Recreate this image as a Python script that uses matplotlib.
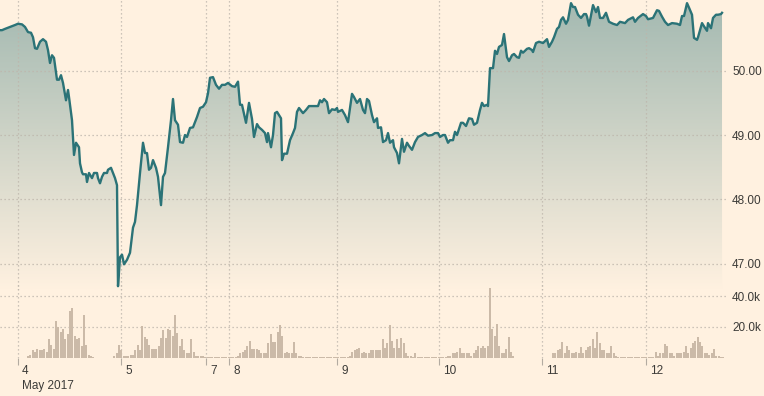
import numpy as np
import matplotlib.pyplot as plt
from matplotlib.colors import to_rgb
from matplotlib.transforms import ScaledTranslation

# position along the (compressed) trading-time axis
t = [0, 2, 5, 10, 15, 18, 22, 25, 28, 31, 33, 35, 37, 40, 43, 46, 48, 50, 52, 54,
     57, 59, 61, 63, 66, 68, 69, 72, 74, 76, 79, 80, 82, 83, 86, 87, 89, 92, 94, 97,
     98, 100, 102, 104, 107, 108, 111, 113, 115, 117, 118, 120, 122, 124, 127, 130, 133, 135, 137, 140,
     143, 145, 147, 149, 151, 153, 156, 158, 161, 163, 165, 168, 171, 173, 175, 178, 180, 183, 185, 187,
     190, 193, 197, 200, 203, 206, 208, 210, 213, 216, 219, 222, 225, 228, 232, 235, 238, 240, 242, 246,
     249, 252, 254, 257, 259, 262, 265, 267, 268, 271, 273, 275, 277, 281, 282, 284, 287, 290, 293, 295,
     297, 299, 303, 306, 309, 315, 318, 320, 322, 324, 327, 329, 332, 335, 337, 338, 342, 345, 348, 352,
     354, 357, 360, 363, 365, 367, 369, 372, 374, 377, 378, 381, 383, 386, 388, 390, 393, 394, 397, 399,
     402, 404, 407, 409, 412, 415, 418, 422, 425, 428, 432, 435, 438, 440, 443, 445, 448, 450, 453, 455,
     457, 461, 463, 466, 469, 472, 474, 477, 480, 482, 484, 487, 488, 490, 493, 495, 497, 499, 502, 504,
     507, 509, 512, 514, 517, 519, 521, 523, 527, 529, 532, 533, 536, 539, 543, 547, 549, 552, 554, 557,
     559, 561, 563, 566, 568, 571, 573, 575, 578, 581, 584, 586, 587, 589, 593, 596, 598, 600, 603, 606,
     609, 613, 617, 620, 625, 628, 633, 635, 638, 643, 646, 648, 653, 657, 659, 662, 665, 668, 672, 677,
     680, 682, 684, 687, 689, 692, 694, 697, 698, 702, 704, 707, 708, 711, 713, 716, 718, 721, 722]

price = [50.63, 50.63, 50.65, 50.68, 50.71, 50.73, 50.72, 50.68, 50.60, 50.59, 50.52, 50.35, 50.34, 50.45, 50.49, 50.45, 50.32, 50.12, 50.24, 50.20,
         49.86, 49.86, 49.93, 49.81, 49.54, 49.70, 49.59, 49.23, 48.69, 48.88, 48.81, 48.56, 48.42, 48.39, 48.39, 48.27, 48.41, 48.33, 48.41, 48.41,
         48.33, 48.25, 48.35, 48.41, 48.41, 48.46, 48.49, 48.41, 48.33, 48.22, 46.65, 47.10, 47.14, 46.99, 47.06, 47.17, 47.56, 47.65, 47.91, 48.41,
         48.88, 48.72, 48.72, 48.46, 48.49, 48.61, 48.49, 48.35, 47.91, 48.35, 48.41, 48.81, 49.23, 49.56, 49.23, 49.16, 48.89, 48.88, 49.00, 48.97,
         49.11, 49.12, 49.28, 49.42, 49.44, 49.51, 49.65, 49.89, 49.90, 49.78, 49.72, 49.78, 49.78, 49.81, 49.76, 49.75, 49.83, 49.47, 49.47, 49.19,
         49.50, 49.25, 48.97, 49.17, 49.12, 49.08, 49.03, 48.89, 49.03, 48.81, 49.00, 49.34, 49.36, 49.26, 48.61, 48.71, 48.71, 48.92, 49.03, 49.11,
         49.36, 49.42, 49.34, 49.39, 49.45, 49.45, 49.45, 49.54, 49.51, 49.56, 49.51, 49.34, 49.40, 49.39, 49.42, 49.36, 49.39, 49.31, 49.20, 49.64,
         49.59, 49.50, 49.56, 49.39, 49.34, 49.56, 49.53, 49.31, 49.20, 49.26, 49.11, 49.12, 48.89, 48.92, 49.03, 48.88, 48.92, 48.81, 48.72, 48.56,
         48.94, 48.74, 48.88, 48.83, 48.77, 48.89, 48.97, 49.00, 49.03, 48.99, 49.00, 49.03, 49.03, 48.97, 49.00, 49.00, 48.88, 48.92, 48.92, 49.05,
         49.00, 49.19, 49.19, 49.14, 49.26, 49.25, 49.16, 49.19, 49.39, 49.50, 49.45, 49.47, 49.45, 50.04, 50.04, 50.31, 50.26, 50.37, 50.40, 50.57,
         50.21, 50.15, 50.24, 50.26, 50.21, 50.20, 50.31, 50.28, 50.34, 50.35, 50.32, 50.29, 50.43, 50.45, 50.43, 50.49, 50.37, 50.45, 50.52, 50.65,
         50.68, 50.79, 50.83, 50.73, 50.79, 51.05, 50.99, 50.99, 50.87, 50.82, 50.88, 50.88, 50.84, 50.70, 51.02, 50.91, 50.99, 50.82, 50.82, 50.90,
         50.76, 50.73, 50.71, 50.76, 50.74, 50.79, 50.83, 50.76, 50.82, 50.88, 50.85, 50.80, 50.82, 50.94, 50.93, 50.84, 50.76, 50.71, 50.74, 50.73,
         50.71, 50.85, 50.85, 51.05, 50.98, 50.87, 50.51, 50.48, 50.52, 50.74, 50.69, 50.62, 50.74, 50.66, 50.82, 50.87, 50.87, 50.88, 50.90]

# 30-minute volume, thousands of contracts
volume = [0.3, 0.3, 0.3, 0.3, 0.3, 0.3, 0.3, 0.3, 0.3, 0.3, 0.3, 0.3,
          1, 2, 5, 4, 6, 5, 5, 6, 4, 12, 8.5, 6, 24, 20, 17, 18.5, 12, 15.5, 30, 32,
          14, 12, 13, 7.5, 27.5, 8.5, 2, 1.5, 0.5,
          0.3, 0.3, 0.3, 0.3, 0.3, 0.3, 0.3, 0.3,
          1, 3, 8.5, 5, 1.5, 1, 1.5, 2, 2, 5, 8.5, 5, 20.5, 13.5, 12, 8.5, 6, 6, 6, 7.5,
          13, 18, 13, 18.5, 18, 14, 28, 16, 7.5, 12, 5, 3, 3, 12, 4, 1.5, 1, 1, 1.5,
          0.4, 0.4, 0.4, 0.4, 0.4, 0.4, 0.4, 0.4, 0.4, 0.4, 0.4, 0.4, 0.4, 0.4,
          1.5, 3, 4, 5, 7.5, 11, 6, 6, 6, 5, 3, 3.5, 3, 9.5, 15.5, 10, 10, 17, 21, 14,
          3, 4, 3.5, 3, 10.5, 3, 1, 1.5,
          0.4, 0.4, 0.4, 0.4, 0.4, 0.4, 0.4, 0.4, 0.4, 0.4, 0.4, 0.4, 0.4, 0.4, 0.4, 0.4, 0.4, 0.4, 0.4, 0.4,
          1.5, 4, 5, 6, 6.5, 3, 4, 3.5, 3.5, 5, 5, 5, 5, 5, 12, 6.5, 9.5, 21, 11, 6.5,
          12, 6.5, 13, 9.5, 3.5, 1, 1, 0.6, 3,
          0.4, 0.4, 0.4, 0.4, 0.4, 0.4, 0.4, 0.4, 0.4, 0.4, 0.4, 0.4, 0.4,
          1.5, 1.5, 3, 3, 4, 6.5, 3, 3, 3, 3, 1.5, 3, 5, 8, 6.5, 7.5, 6.5, 7.5, 45, 19,
          14, 22, 7.5, 3.5, 3, 6, 13.5, 4, 1,
          0.3, 0.3, 0.3, 0.3, 0.3, 0.3, 0.3, 0.3, 0.3, 0.3, 0.3, 0.3, 0.3, 0.3, 0.3, 0.3,
          3, 3, 5, 6, 10, 3, 7.5, 5, 3, 3.5, 4, 3, 7, 3, 5, 7, 8, 12, 6.5, 16.5,
          9.5, 5, 5, 3, 3, 8, 3, 1, 0.5,
          0.4, 0.4, 0.4, 0.4, 0.4, 0.4, 0.4, 0.4, 0.4, 0.4, 0.4, 0.4, 0.4, 0.4, 0.4,
          4, 1, 3, 3, 9, 7.5, 3, 3, 1.5, 3, 3, 3, 4, 7.5, 3, 6.5, 9.5, 11, 13.5, 10.5,
          7.5, 3, 3, 2, 3, 6, 1.5, 1, 0.5, 0.4]
vol_step = 7 / 3

day_pos = [18, 121, 206, 229, 337, 439, 542, 646]
day_labels = ["4", "5", "7", "8", "9", "10", "11", "12"]
price_ticks = [47, 48, 49, 50]
vol_ticks = [20, 40]

bg = "#fff1e0"
line_c = "#2b7377"
fill_top = "#a3b9b1"
bar_c = "#cbbaa8"
grid_c = "#bdb5ab"
text_c = "#3c3b38"
dots = (0, (1, 2.2))

plt.rcParams["font.family"] = ["Liberation Sans", "DejaVu Sans"]

fig = plt.figure(figsize=(7.64, 3.96), dpi=100, facecolor=bg)
ax = fig.add_axes([0, 0.2677, 0.9529, 0.7323])
axv = fig.add_axes([0, 0.0960, 0.9529, 0.1843], sharex=ax)
for a in (ax, axv):
    a.set_facecolor("none")
    for s in a.spines.values():
        s.set_visible(False)

y0, y1 = 46.591, 51.099

# gradient under the price line
c_top = np.array(to_rgb(fill_top))
c_bot = np.array(to_rgb(bg))
frac = np.linspace(0, 1, 256)[:, None]
grad = c_top + (c_bot - c_top) * frac
img = np.repeat(grad[:, None, :], 2, axis=1)
area = ax.fill_between(t, price, y0, color="none", lw=0)
im = ax.imshow(img, extent=[0, t[-1], y0, y1], aspect="auto", origin="upper", zorder=1)
im.set_clip_path(area.get_paths()[0], transform=ax.transData)

for p in price_ticks:
    ax.axhline(p, color=grid_c, ls=dots, lw=0.9, zorder=2)
for d in day_pos:
    ax.axvline(d, color=grid_c, ls=dots, lw=0.9, zorder=2)
    axv.axvline(d, color=grid_c, ls=dots, lw=0.9, zorder=0)

ax.plot(t, price, color=line_c, lw=1.7, zorder=4, solid_joinstyle="round")

ax.set_xlim(0, 728)
ax.set_ylim(y0, y1)
ax.yaxis.tick_right()
ax.set_yticks(price_ticks)
ax.set_yticklabels([f"{p:.2f}" for p in price_ticks])
ax.tick_params(axis="y", length=0, pad=3, labelsize=8.5, labelcolor=text_c)
ax.tick_params(axis="x", length=0, labelbottom=False)

# volume
vx = np.arange(len(volume)) * vol_step
for v in vol_ticks:
    axv.axhline(v, color=grid_c, ls=dots, lw=0.9, zorder=0)
axv.bar(vx, volume, width=1.9, color=bar_c, lw=0, zorder=2)
axv.set_ylim(0, 47.1)
axv.yaxis.tick_right()
axv.set_yticks(vol_ticks)
axv.set_yticklabels([f"{v:.1f}k" for v in vol_ticks])
axv.tick_params(axis="y", length=0, pad=3, labelsize=8.5, labelcolor=text_c)
axv.set_xticks(day_pos)
axv.set_xticklabels(day_labels)
axv.tick_params(axis="x", length=5, width=0.8, color="#b3aba1", pad=0,
                labelsize=8.5, labelcolor=text_c)
shift = ScaledTranslation(4 / 100, 0, fig.dpi_scale_trans)
for lbl in axv.get_xticklabels():
    lbl.set_horizontalalignment("left")
    lbl.set_transform(lbl.get_transform() + shift)

fig.text(22 / 764, 1 - 386 / 396, "May 2017", fontsize=8.5, color=text_c, va="center")

fig.savefig("out.png", dpi=100, facecolor=bg)
